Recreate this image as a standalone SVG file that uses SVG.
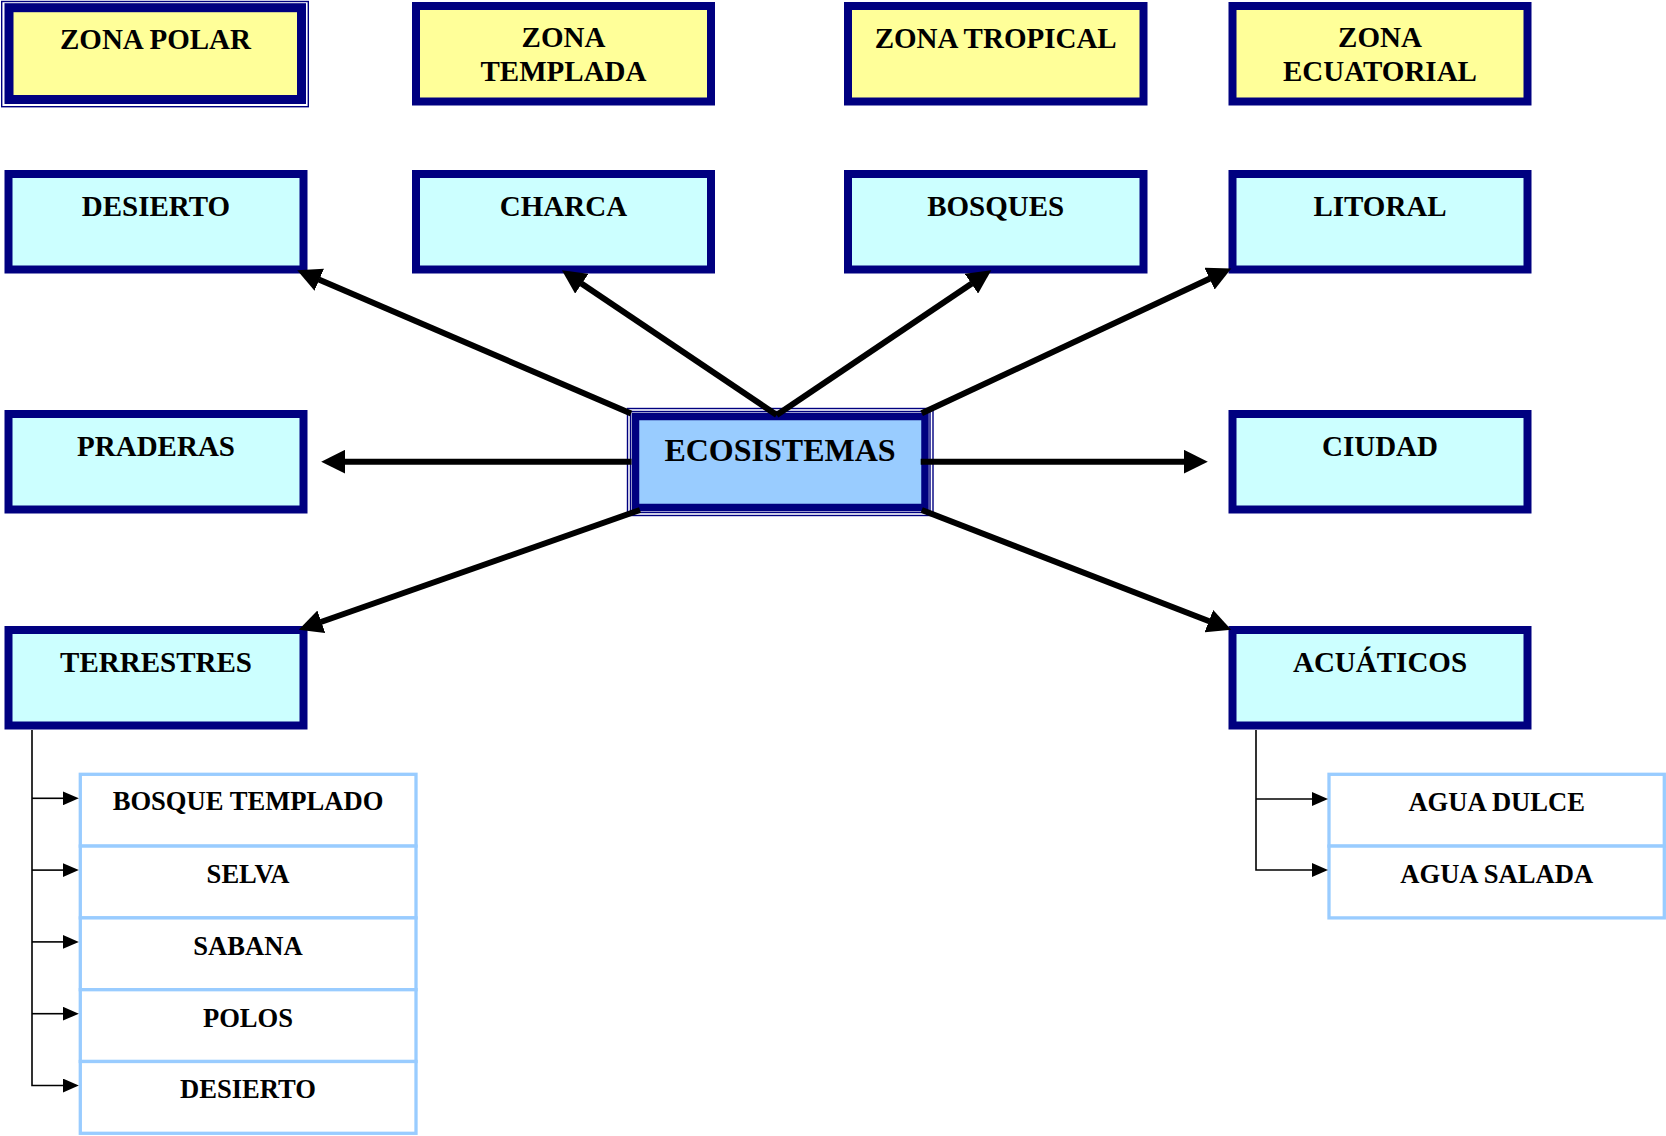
<svg xmlns="http://www.w3.org/2000/svg" width="1666" height="1136" viewBox="0 0 1666 1136">
<style>
.bg{fill:#ffffff}
.zone{fill:#FFFF99;stroke:#000080;stroke-width:8}
.eco{fill:#CCFFFF;stroke:#000080;stroke-width:8}
.thin{fill:none;stroke:#000080;stroke-width:1.4}
.main{fill:#99CCFF;stroke:#000080;stroke-width:7.5}
.sub{fill:#ffffff;stroke:#99CCFF;stroke-width:3.3}
.t{font-family:"Liberation Serif","Times New Roman",serif;font-weight:bold;font-size:29px;fill:#000000;text-anchor:middle}
.ts{font-family:"Liberation Serif","Times New Roman",serif;font-weight:bold;font-size:26.6px;fill:#000000;text-anchor:middle}
.tm{font-family:"Liberation Serif","Times New Roman",serif;font-weight:bold;font-size:32px;fill:#000000;text-anchor:middle}
.conn{fill:none;stroke:#000000;stroke-width:6}
.tree{fill:none;stroke:#000000;stroke-width:1.6}
</style>
<defs>
<marker id="big" markerUnits="userSpaceOnUse" markerWidth="25" markerHeight="24" refX="0.5" refY="12" orient="auto">
<path d="M0,0 L24,12 L0,24 z" fill="#000000"/>
</marker>
<marker id="small" markerUnits="userSpaceOnUse" markerWidth="17" markerHeight="14" refX="0.5" refY="7" orient="auto">
<path d="M0,0 L16,7 L0,14 z" fill="#000000"/>
</marker>
</defs>
<rect class="bg" x="0" y="0" width="1666" height="1136"/>

<g id="zona-polar">
<rect class="thin" x="1.7" y="1.5" width="306.6" height="105.2"/>
<rect class="zone" x="9" y="7.7" width="292.5" height="91.8" style="stroke-width:9"/>
<text class="t" x="155.5" y="49">ZONA POLAR</text>
</g>
<g id="zona-templada">
<rect class="zone" x="416" y="6" width="295" height="95.5"/>
<text class="t" x="563.5" y="46.7">ZONA</text>
<text class="t" x="563.5" y="81">TEMPLADA</text>
</g>
<g id="zona-tropical">
<rect class="zone" x="848" y="6" width="295.5" height="95.5"/>
<text class="t" x="995.7" y="48">ZONA TROPICAL</text>
</g>
<g id="zona-ecuatorial">
<rect class="zone" x="1232.5" y="6" width="295" height="95.5"/>
<text class="t" x="1380" y="46.7">ZONA</text>
<text class="t" x="1380" y="81">ECUATORIAL</text>
</g>

<g id="desierto">
<rect class="eco" x="8.5" y="174" width="295" height="95.5"/>
<text class="t" x="156" y="216">DESIERTO</text>
</g>
<g id="charca">
<rect class="eco" x="416" y="174" width="295" height="95.5"/>
<text class="t" x="563.5" y="216">CHARCA</text>
</g>
<g id="bosques">
<rect class="eco" x="848" y="174" width="295.5" height="95.5"/>
<text class="t" x="995.7" y="216">BOSQUES</text>
</g>
<g id="litoral">
<rect class="eco" x="1232.5" y="174" width="295" height="95.5"/>
<text class="t" x="1380" y="216">LITORAL</text>
</g>

<g id="praderas">
<rect class="eco" x="8.5" y="414" width="295" height="95.5"/>
<text class="t" x="156" y="456">PRADERAS</text>
</g>
<g id="ecosistemas">
<rect class="thin" x="627.5" y="408.5" width="305.5" height="107"/>
<rect class="thin" x="630.5" y="411.5" width="299.5" height="101"/>
<rect class="main" x="635.5" y="416.5" width="289.5" height="91"/>
<text class="tm" x="780" y="460.5">ECOSISTEMAS</text>
</g>
<g id="ciudad">
<rect class="eco" x="1232.5" y="414" width="295" height="95.5"/>
<text class="t" x="1380" y="456">CIUDAD</text>
</g>

<g id="terrestres">
<rect class="eco" x="8.5" y="630" width="295" height="95.5"/>
<text class="t" x="156" y="672">TERRESTRES</text>
</g>
<g id="acuaticos">
<rect class="eco" x="1232.5" y="630" width="295" height="95.5"/>
<text class="t" x="1380" y="672">ACUÁTICOS</text>
</g>

<g id="bosque-templado">
<rect class="sub" x="80.3" y="774.3" width="335.7" height="71.8"/>
<text class="ts" x="248" y="810">BOSQUE TEMPLADO</text>
</g>
<g id="selva">
<rect class="sub" x="80.3" y="846.1" width="335.7" height="71.8"/>
<text class="ts" x="248" y="882.5">SELVA</text>
</g>
<g id="sabana">
<rect class="sub" x="80.3" y="917.9" width="335.7" height="71.8"/>
<text class="ts" x="248" y="955">SABANA</text>
</g>
<g id="polos">
<rect class="sub" x="80.3" y="989.7" width="335.7" height="71.8"/>
<text class="ts" x="248" y="1026.7">POLOS</text>
</g>
<g id="desierto-2">
<rect class="sub" x="80.3" y="1061.5" width="335.7" height="71.8"/>
<text class="ts" x="248" y="1098.3">DESIERTO</text>
</g>

<g id="agua-dulce">
<rect class="sub" x="1329" y="774.3" width="335.3" height="71.8"/>
<text class="ts" x="1496.7" y="810.7">AGUA DULCE</text>
</g>
<g id="agua-salada">
<rect class="sub" x="1329" y="846.1" width="335.3" height="71.8"/>
<text class="ts" x="1496.7" y="883.3">AGUA SALADA</text>
</g>

<g id="connectors">
<line class="conn" x1="631" y1="413.5" x2="318.8" y2="279.5" marker-end="url(#big)"/>
<line class="conn" x1="776.7" y1="415" x2="581.4" y2="283.4" marker-end="url(#big)"/>
<line class="conn" x1="776.7" y1="415" x2="971.8" y2="283.4" marker-end="url(#big)"/>
<line class="conn" x1="921.7" y1="413.3" x2="1210" y2="278.5" marker-end="url(#big)"/>
<line class="conn" x1="631.5" y1="461.7" x2="344.7" y2="461.7" marker-end="url(#big)"/>
<line class="conn" x1="920.7" y1="461.7" x2="1184.3" y2="461.7" marker-end="url(#big)"/>
<line class="conn" x1="640" y1="510" x2="320.9" y2="622" marker-end="url(#big)"/>
<line class="conn" x1="921.7" y1="510" x2="1209.3" y2="621.3" marker-end="url(#big)"/>

<polyline class="tree" points="32,730 32,1085.5 63.3,1085.5" marker-end="url(#small)"/>
<line class="tree" x1="32" y1="798.3" x2="63.3" y2="798.3" marker-end="url(#small)"/>
<line class="tree" x1="32" y1="870.1" x2="63.3" y2="870.1" marker-end="url(#small)"/>
<line class="tree" x1="32" y1="941.9" x2="63.3" y2="941.9" marker-end="url(#small)"/>
<line class="tree" x1="32" y1="1013.7" x2="63.3" y2="1013.7" marker-end="url(#small)"/>

<polyline class="tree" points="1256,730 1256,870 1312.5,870" marker-end="url(#small)"/>
<line class="tree" x1="1256" y1="799" x2="1312.5" y2="799" marker-end="url(#small)"/>
</g>
</svg>
